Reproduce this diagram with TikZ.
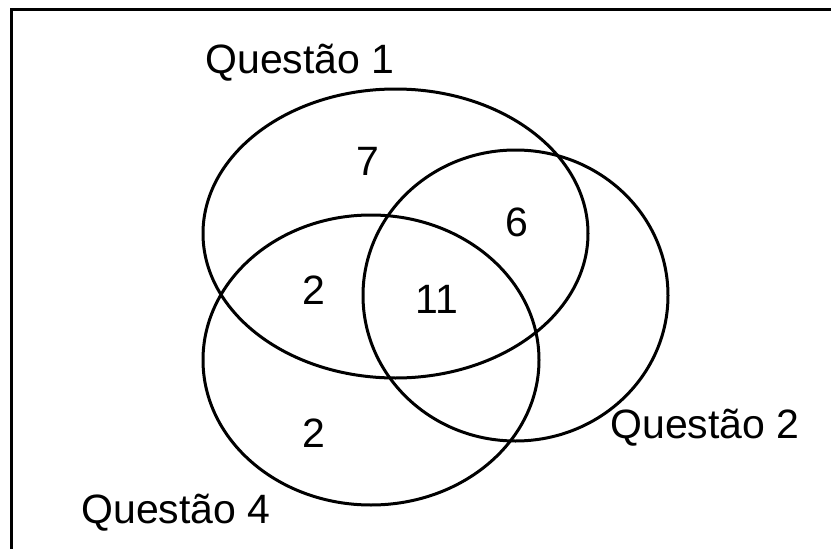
\documentclass[tikz,border=0pt]{standalone}
\usepackage{fontspec}
\setmainfont{Liberation Sans}
\begin{document}
\begin{tikzpicture}[x=1pt,y=-1pt,
  setline/.style={line width=3pt},
  frameline/.style={line width=2.5pt},
  lbl/.style={font=\fontsize{41}{48}\selectfont, inner sep=0pt, anchor=base}]
\useasboundingbox (0,0) rectangle (831,549);
\draw[frameline] (11.5,549) -- (11.5,9.5) -- (831,9.5);
% sets
\draw[setline] (395.5,233.5) ellipse [x radius=192.5, y radius=144.5];
\draw[setline] (515.5,295.5) ellipse [x radius=152.5, y radius=145.5];
\draw[setline] (371,360) ellipse [x radius=168, y radius=145];
% labels
\node[lbl] (q1) at (300,73) {Questão 1};
\node[lbl] (q2) at (705,438) {Questão 2};
\node[lbl] (q4) at (176,523) {Questão 4};
% counts
\node[lbl] (n7) at (368,175) {7};
\node[lbl] (n6) at (517,236) {6};
\node[lbl] (n2a) at (314,304) {2};
\node[lbl] (n11) at (437,313) {11};
\node[lbl] (n2b) at (314,447) {2};
\end{tikzpicture}
\end{document}
